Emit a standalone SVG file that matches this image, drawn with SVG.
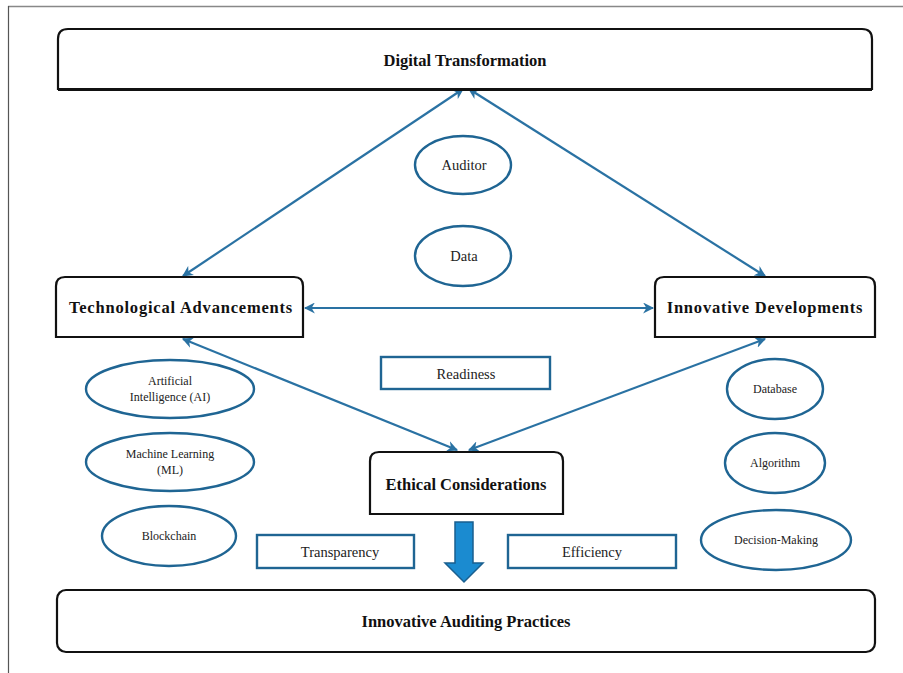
<svg xmlns="http://www.w3.org/2000/svg" width="903" height="673" viewBox="0 0 903 673">
  <defs>
    <marker id="ah" viewBox="0 0 10 10" refX="9" refY="5" markerWidth="5" markerHeight="5" orient="auto-start-reverse" markerUnits="strokeWidth">
      <path d="M0,0 L10,5 L0,10 L3,5 Z" fill="#2a72a3"/>
    </marker>
    <style>
      .box { fill: #ffffff; stroke: #111111; stroke-width: 2.2; }
      .ell { fill: #ffffff; stroke: #1f6593; stroke-width: 2.4; }
      .rct { fill: #ffffff; stroke: #1f6593; stroke-width: 2.4; }
      .con { fill: none; stroke: #2a72a3; stroke-width: 2.2; marker-start: url(#ah); marker-end: url(#ah); }
      .hd { font-family: "Liberation Serif", "Times New Roman", serif; font-weight: bold; font-size: 16.5px; fill: #111111; text-anchor: middle; }
      .lb { font-family: "Liberation Serif", "Times New Roman", serif; font-size: 12px; fill: #222222; text-anchor: middle; }
      .lg { font-size: 14.5px; }
    </style>
  </defs>
  <rect x="0" y="0" width="903" height="673" fill="#ffffff"/>
  <g id="frame">
    <line x1="8" y1="6.5" x2="903" y2="6.5" stroke="#888888" stroke-width="1.5"/>
    <line x1="8.5" y1="6" x2="8.5" y2="673" stroke="#555555" stroke-width="1.2"/>
  </g>

  <g id="connectors">
    <line class="con" x1="183" y1="276" x2="463" y2="89"/>
    <line class="con" x1="765" y1="276" x2="469" y2="89"/>
    <line class="con" x1="305" y1="308" x2="653" y2="308"/>
    <line class="con" x1="183" y1="339" x2="457" y2="450"/>
    <line class="con" x1="765" y1="339" x2="469" y2="450"/>
    <path id="downArrow" d="M455,522 L473,522 L473,563 L483,563 L464,582 L445,563 L455,563 Z" fill="#1b8bd0" stroke="#1a5f8f" stroke-width="1.5"/>
  </g>

  <g id="digital-transformation">
    <path class="box" d="M58,89 L58,39 Q58,29 68,29 L862,29 Q872,29 872,39 L872,89 Z"/>
    <line x1="58" y1="89.5" x2="872" y2="89.5" stroke="#111" stroke-width="3"/>
    <text class="hd" x="465" y="66">Digital Transformation</text>
  </g>

  <g id="auditor">
    <ellipse class="ell" cx="463" cy="165" rx="48" ry="29"/>
    <text class="lb lg" x="464" y="170">Auditor</text>
  </g>
  <g id="data">
    <ellipse class="ell" cx="463" cy="256" rx="48" ry="30"/>
    <text class="lb lg" x="464" y="261">Data</text>
  </g>

  <g id="technological-advancements">
    <path class="box" d="M56,337 L56,286 Q56,277 65,277 L294,277 Q303,277 303,286 L303,337 Z"/>
    <text class="hd" x="181" y="313" style="letter-spacing:0.8px">Technological Advancements</text>
  </g>
  <g id="innovative-developments">
    <path class="box" d="M655,337 L655,286 Q655,277 664,277 L866,277 Q875,277 875,286 L875,337 Z"/>
    <text class="hd" x="765" y="313" style="letter-spacing:0.8px">Innovative Developments</text>
  </g>

  <g id="readiness">
    <rect class="rct" x="381" y="357" width="169" height="32"/>
    <text class="lb lg" x="466" y="379">Readiness</text>
  </g>

  <g id="ai">
    <ellipse class="ell" cx="170" cy="389" rx="84" ry="29"/>
    <text class="lb" x="170" y="385">Artificial</text>
    <text class="lb" x="170" y="401">Intelligence (AI)</text>
  </g>
  <g id="ml">
    <ellipse class="ell" cx="170" cy="462" rx="84" ry="29"/>
    <text class="lb" x="170" y="458">Machine Learning</text>
    <text class="lb" x="170" y="474">(ML)</text>
  </g>
  <g id="blockchain">
    <ellipse class="ell" cx="169" cy="536" rx="67" ry="30"/>
    <text class="lb" x="169" y="540">Blockchain</text>
  </g>

  <g id="database">
    <ellipse class="ell" cx="775" cy="389" rx="48" ry="30"/>
    <text class="lb" x="775" y="393">Database</text>
  </g>
  <g id="algorithm">
    <ellipse class="ell" cx="775" cy="463" rx="50" ry="30"/>
    <text class="lb" x="775" y="467">Algorithm</text>
  </g>
  <g id="decision-making">
    <ellipse class="ell" cx="776" cy="540" rx="75" ry="30"/>
    <text class="lb" x="776" y="544">Decision-Making</text>
  </g>

  <g id="ethical-considerations">
    <path class="box" d="M370,514 L370,461 Q370,452 379,452 L554,452 Q563,452 563,461 L563,514 Z"/>
    <text class="hd" x="466" y="490">Ethical Considerations</text>
  </g>

  <g id="transparency">
    <rect class="rct" x="257" y="535" width="157" height="33"/>
    <text class="lb lg" x="340" y="557">Transparency</text>
  </g>
  <g id="efficiency">
    <rect class="rct" x="508" y="535" width="168" height="33"/>
    <text class="lb lg" x="592" y="557">Efficiency</text>
  </g>

  <g id="innovative-auditing-practices">
    <rect class="box" x="57" y="590" width="818" height="62" rx="9" ry="9"/>
    <text class="hd" x="466" y="627">Innovative Auditing Practices</text>
  </g>
</svg>
